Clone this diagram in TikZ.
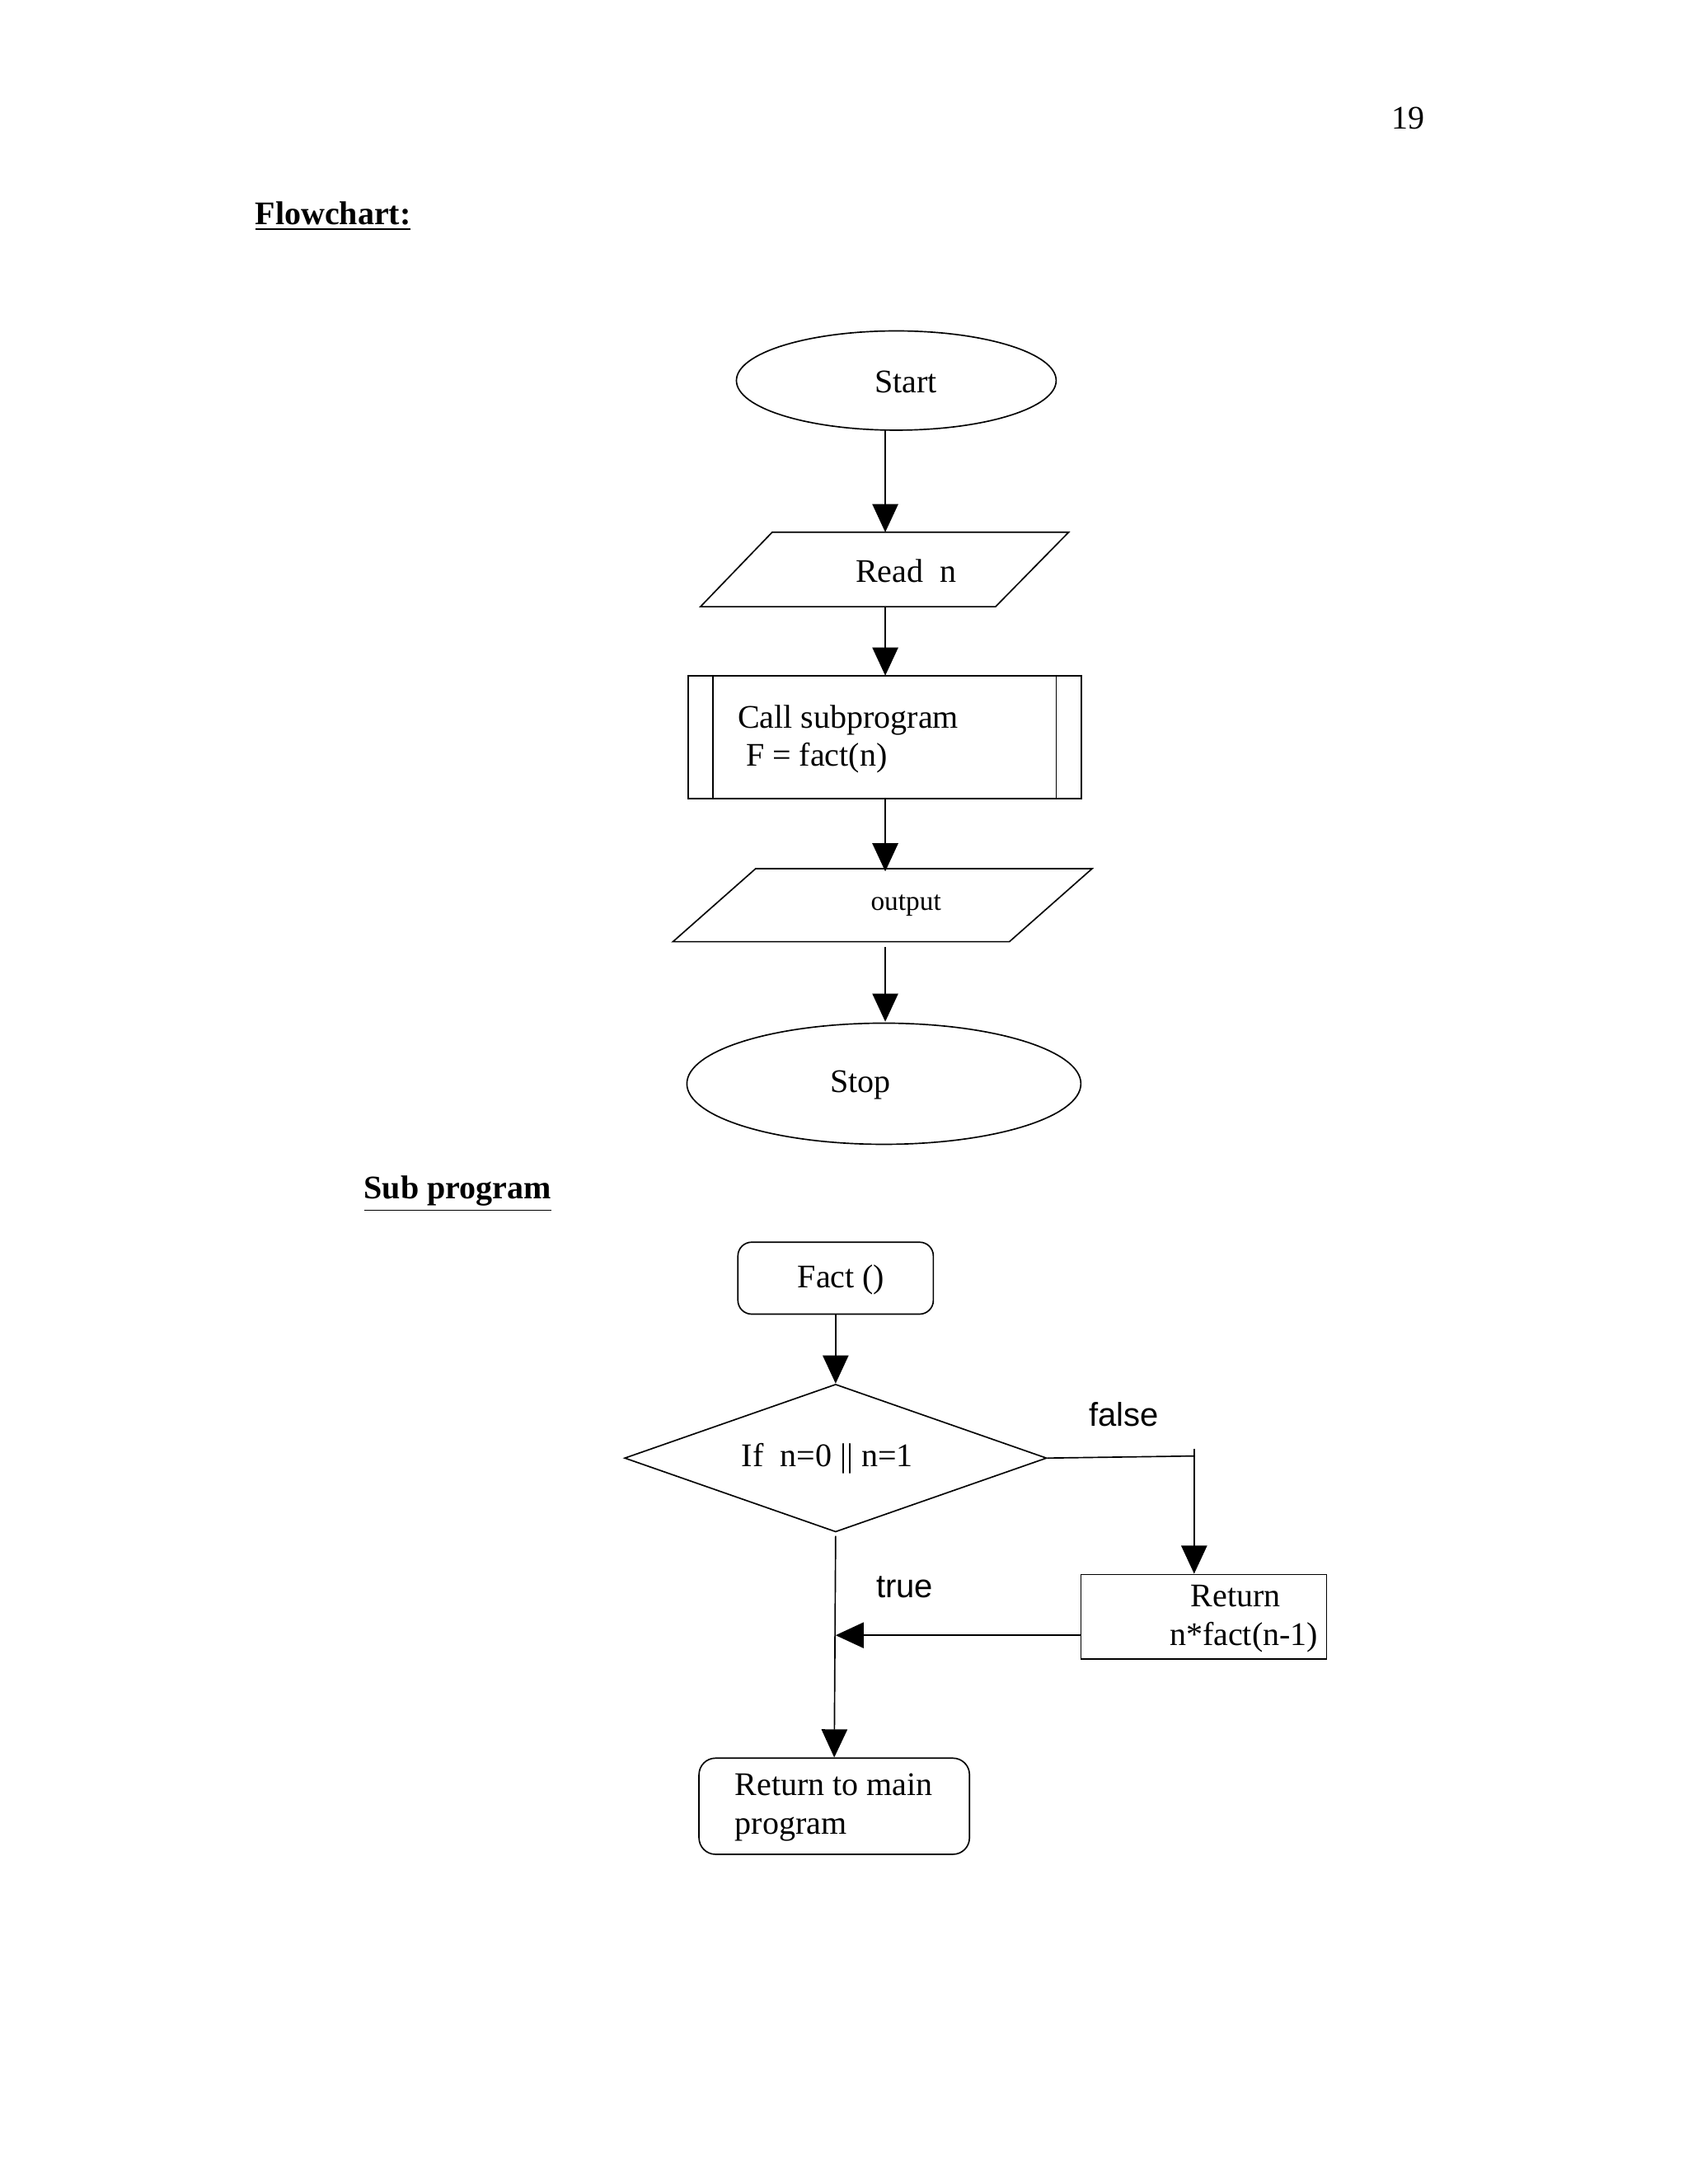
\documentclass[tikz,border=0pt]{standalone}
\usepackage{fontspec}
\setmainfont{Liberation Serif}
\newfontfamily\sansf{Liberation Sans}
\usetikzlibrary{arrows.meta,shapes.geometric}
\begin{document}
\begin{tikzpicture}[x=0.01764cm,y=-0.01764cm,
  every node/.style={font=\fontsize{12}{14}\selectfont},
  ln/.style={line width=0.5pt},
  arr/.style={ln,-{Triangle[length=3.6mm,width=3.3mm]}},
  box/.style={draw,ln,rectangle,inner sep=0pt}]
\useasboundingbox (0,0) rectangle (1224,1584);
\node at (1021,86) {19};
\node[anchor=west,font=\bfseries\fontsize{12}{14}\selectfont] at (178,157) {\underline{Flowchart:}};
\node[anchor=west,font=\bfseries\fontsize{12}{14}\selectfont] at (257,866) {\underline{Sub program}};
% Start
\node[draw,ln,ellipse,minimum width=232\pgflinewidth*0+4.09cm,minimum height=1.27cm,inner sep=0pt] (start) at (650,276) {};
\node at (657,277) {Start};
% Read n
\draw[ln] (560,386) -- (775,386) -- (722,440) -- (508,440) -- cycle;
\coordinate (readT) at (642,386); \coordinate (readB) at (642,440);
\node at (657,414) {Read\ \ n};
% call
\node[box,minimum width=5.03cm,minimum height=1.57cm] (call) at (641.5,534.5) {};
\draw[ln] (517,490) -- (517,579) (766,490) -- (766,579);
\node[anchor=west,align=left] at (528,536) {Call subprogram\\\ F = fact(n)};
% output
\draw[ln] (548,630) -- (792,630) -- (732,683) -- (488,683) -- cycle;
\coordinate (outT) at (642,632); \coordinate (outB) at (642,687);
\node[font=\fontsize{10}{12}\selectfont] at (657,657) {output};
% stop
\node[draw,ln,ellipse,minimum width=5.04cm,minimum height=1.55cm,inner sep=0pt] (stop) at (641,786) {};
\node at (624,787) {Stop};
\draw[arr] (642,312) -- (readT);
\draw[arr] (readB) -- (642,490);
\draw[arr] (642,579) -- (outT);
\draw[arr] (outB) -- (642,741);
% sub program
\node[box,rounded corners=5pt,minimum width=2.5cm,minimum height=0.92cm] (fact) at (606,927) {};
\node at (610,928) {Fact ()};
\node[draw,ln,diamond,aspect=2.85,minimum width=5.4cm,minimum height=1.89cm,inner sep=0pt] (dia) at (606,1057.5) {};
\node at (600,1058) {If\ \ n=0 || n=1};
\node[box,minimum width=3.14cm,minimum height=1.08cm] (ret) at (873,1172.5) {};
\node[align=center] at (896,1174) {Return\\\ \ n*fact(n-1)};
\node[box,rounded corners=6pt,minimum width=3.46cm,minimum height=1.23cm] (main) at (605,1310) {};
\node[anchor=west,align=left] at (526,1311) {Return to main\\program};
\draw[arr] (fact.south) -- (dia.north);
\coordinate (fc) at (866,1056);
\draw[ln] (dia.east) -- (fc);
\draw[ln] (866,1051) -- (866,1062);
\draw[arr] (fc) -- (ret.north -| fc);
\coordinate (mid) at (606,1186);
\draw[arr] (ret.west |- mid) -- (mid);
\draw[arr] (606,1114) -- (main.north);
\node[font=\sansf\fontsize{12}{14}\selectfont] at (815,1026) {false};
\node[font=\sansf\fontsize{12}{14}\selectfont] at (656,1151) {true};
\end{tikzpicture}
\end{document}
